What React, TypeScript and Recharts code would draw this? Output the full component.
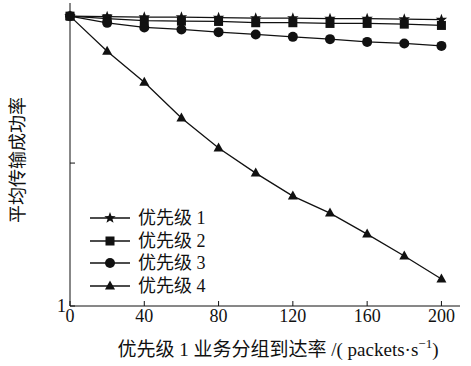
import { LineChart, Line, XAxis, YAxis, Label } from "recharts";

const rates = [0, 20, 40, 60, 80, 100, 120, 140, 160, 180, 200];
const prio1 = [3.028, 3.024, 3.021, 3.021, 3.017, 3.014, 3.014, 3.01, 3.01, 3.007, 3.003];
const prio2 = [3.028, 3.01, 2.997, 2.993, 2.991, 2.982, 2.982, 2.977, 2.977, 2.972, 2.963];
const prio3 = [3.028, 2.981, 2.949, 2.935, 2.916, 2.9, 2.883, 2.867, 2.848, 2.837, 2.82];
const prio4 = [3.028, 2.783, 2.566, 2.315, 2.105, 1.93, 1.769, 1.65, 1.503, 1.35, 1.189];
const names = ["优先级 1", "优先级 2", "优先级 3", "优先级 4"];
const xTicks = [0, 40, 80, 120, 160, 200];

const data = rates.map((x, i) => ({ x, p1: prio1[i], p2: prio2[i], p3: prio3[i], p4: prio4[i] }));

const FONT = '"Liberation Serif", "Noto Sans CJK SC", serif';
const INK = "#111";

type Kind = "star" | "square" | "circle" | "triangle";

function Marker({ kind, cx, cy }: { kind: Kind; cx: number; cy: number }) {
  if (cx == null || cy == null) return null;
  if (kind === "square") return <rect x={cx - 4.5} y={cy - 4.5} width={9} height={9} fill={INK} />;
  if (kind === "circle") return <circle cx={cx} cy={cy} r={5} fill={INK} />;
  if (kind === "triangle")
    return <polygon points={`${cx},${cy - 5.5} ${cx + 5},${cy + 3.5} ${cx - 5},${cy + 3.5}`} fill={INK} />;
  const pts: string[] = [];
  for (let k = 0; k < 10; k++) {
    const r = k % 2 === 0 ? 6 : 2.5;
    const a = -Math.PI / 2 + (k * Math.PI) / 5;
    pts.push(`${cx + r * Math.cos(a)},${cy + r * Math.sin(a)}`);
  }
  return <polygon points={pts.join(" ")} fill={INK} />;
}

const series: { key: string; kind: Kind }[] = [
  { key: "p1", kind: "star" },
  { key: "p2", kind: "square" },
  { key: "p3", kind: "circle" },
  { key: "p4", kind: "triangle" },
];

export default function App() {
  return (
    <div style={{ position: "absolute", left: 0, top: 0, width: 471, height: 366, background: "#fff", fontFamily: FONT }}>
      <LineChart width={471} height={366} data={data} margin={{ top: 3, right: 11, left: 0, bottom: 0 }}>
        <XAxis
          dataKey="x"
          type="number"
          domain={[0, 210]}
          ticks={xTicks}
          height={60}
          stroke={INK}
          tickSize={-5}
          tickMargin={8}
          tick={{ fill: INK, fontSize: 18, fontFamily: FONT }}
        >
          <Label
            content={() => (
              <text x={278} y={356} textAnchor="middle" fill={INK} fontFamily={FONT} fontSize={19}>
                优先级 1 业务分组到达率 /( packets·s
                <tspan fontSize={13} dy={-8}>−1</tspan>
                <tspan dy={8}>)</tspan>
              </text>
            )}
          />
        </XAxis>
        <YAxis
          type="number"
          domain={[1, 3.12]}
          ticks={[1, 2]}
          width={70}
          stroke={INK}
          tickSize={-5}
          tickMargin={9}
          tickFormatter={(v: number) => (v === 1 ? "1" : "")}
          tick={{ fill: INK, fontSize: 18, fontFamily: FONT }}
        >
          <Label
            content={() => (
              <text
                x={24}
                y={160}
                transform="rotate(-90 24 160)"
                textAnchor="middle"
                fill={INK}
                fontFamily={FONT}
                fontSize={18}
              >
                平均传输成功率
              </text>
            )}
          />
        </YAxis>
        {series.map((s) => (
          <Line
            key={s.key}
            dataKey={s.key}
            stroke={INK}
            strokeWidth={1.3}
            isAnimationActive={false}
            dot={(p: any) => <Marker key={`${s.key}-${p.index}`} kind={s.kind} cx={p.cx} cy={p.cy} />}
          />
        ))}
      </LineChart>
      <div style={{ position: "absolute", left: 88, top: 207 }}>
        {series.map((s, i) => (
          <div key={s.key} style={{ display: "flex", alignItems: "center", height: 22.5 }}>
            <svg width={46} height={20}>
              <line x1={2} x2={42} y1={10} y2={10} stroke={INK} strokeWidth={1.3} />
              <Marker kind={s.kind} cx={22} cy={10} />
            </svg>
            <span style={{ fontSize: 18, color: INK, marginLeft: 4, lineHeight: 1 }}>{names[i]}</span>
          </div>
        ))}
      </div>
    </div>
  );
}
